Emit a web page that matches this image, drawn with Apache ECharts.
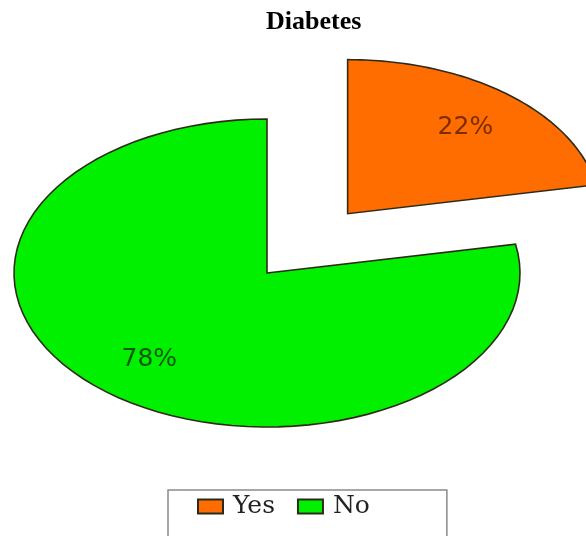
<!DOCTYPE html>
<html>
<head>
<meta charset="utf-8">
<script src="https://cdn.jsdelivr.net/npm/echarts@6/dist/echarts.min.js"></script>
<style>
  html, body { margin: 0; padding: 0; background: #fff; }
  #chart { width: 586px; height: 536px; }
</style>
</head>
<body>
<div id="chart"></div>
<script>
// data
const categories = ['Yes', 'No'];
const values = [22, 78];
const sliceColors = ['#ff6d00', '#00f000'];
const labelColors = ['#7a2e00', '#0b5a0b'];
const explode = [0.5, 0];

const total = values.reduce((s, v) => s + v, 0);

// slice drawn as an elliptical sector on a -1..1 value grid
function renderSlice(params, api) {
    const i = params.seriesIndex;
    let before = 0;
    for (let k = 0; k < i; k++) before += values[k];
    const a0 = before / total * Math.PI * 2;
    const a1 = (before + api.value(0)) / total * Math.PI * 2;
    const mid = (a0 + a1) / 2;
    const cx = explode[i] * Math.sin(mid);
    const cy = explode[i] * Math.cos(mid);

    const pts = [api.coord([cx, cy])];
    const n = 80;
    for (let k = 0; k <= n; k++) {
        const t = a0 + (a1 - a0) * k / n;
        pts.push(api.coord([cx + Math.sin(t), cy + Math.cos(t)]));
    }
    const lp = api.coord([cx + 0.73 * Math.sin(mid), cy + 0.73 * Math.cos(mid)]);

    return {
        type: 'group',
        children: [
            {
                type: 'polygon',
                shape: { points: pts },
                style: { fill: api.visual('color'), stroke: '#2e2a1a', lineWidth: 1.6 }
            },
            {
                type: 'text',
                x: lp[0],
                y: lp[1],
                style: {
                    text: Math.round(api.value(0) / total * 100) + '%',
                    fill: labelColors[i],
                    font: '25px "DejaVu Sans"',
                    align: 'center',
                    verticalAlign: 'middle'
                }
            }
        ]
    };
}

var myChart = echarts.init(document.getElementById('chart'));

const option = {
    animation: false,
    title: {
        text: 'Diabetes',
        left: 266,
        top: 9,
        padding: 0,
        textStyle: {
            fontFamily: 'Liberation Serif',
            fontWeight: 'bold',
            fontSize: 26,
            color: '#000'
        }
    },
    legend: {
        data: categories,
        left: 168,
        top: 490,
        padding: [4, 77, 30, 29],
        borderColor: '#8a8a8a',
        borderWidth: 1.5,
        icon: 'rect',
        itemWidth: 25,
        itemHeight: 14,
        itemGap: 22,
        itemStyle: { borderColor: '#2a2a1a', borderWidth: 2 },
        textStyle: {
            fontFamily: 'DejaVu Serif',
            fontSize: 25,
            color: '#222',
            padding: [0, 0, 0, 5]
        }
    },
    grid: { left: 14, top: 119, width: 506, height: 308 },
    xAxis: { type: 'value', min: -1, max: 1, show: false },
    yAxis: { type: 'value', min: -1, max: 1, show: false },
    series: categories.map((name, i) => ({
        name: name,
        type: 'custom',
        clip: false,
        itemStyle: { color: sliceColors[i], borderColor: '#2e2a1a', borderWidth: 1.5 },
        renderItem: renderSlice,
        data: [[values[i]]]
    }))
};

myChart.setOption(option);
</script>
</body>
</html>
